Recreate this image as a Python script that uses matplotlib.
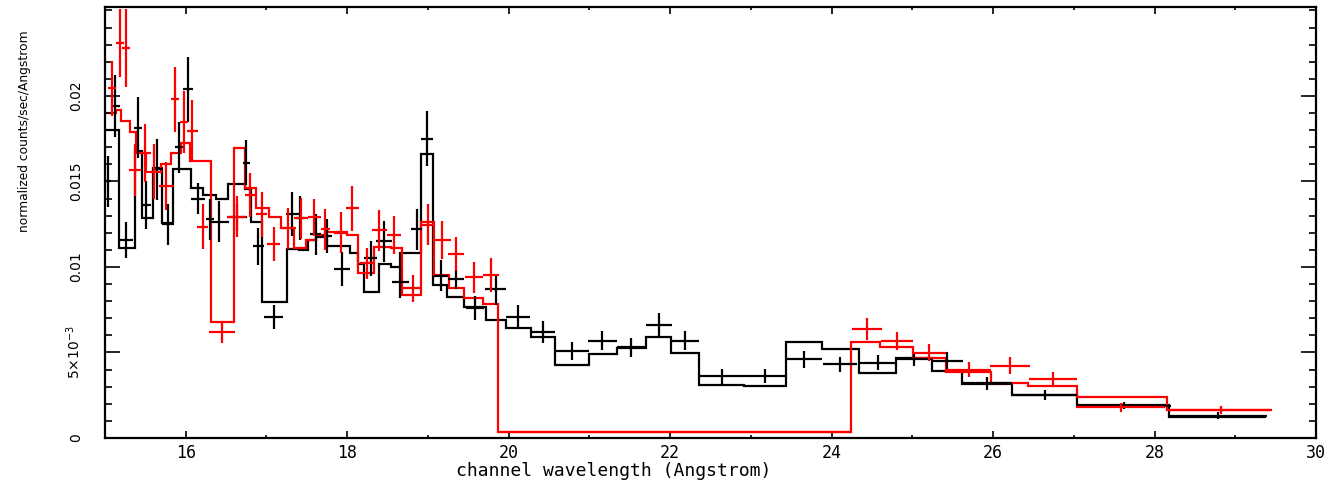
import numpy as np
import matplotlib
matplotlib.use('Agg')
import matplotlib.pyplot as plt
from matplotlib.ticker import MultipleLocator, FixedLocator

# black data (channel centre, half width, value, error)
blk_x = [15.04, 15.13, 15.26, 15.41, 15.51, 15.65, 15.78, 15.92, 16.03, 16.15,
         16.30, 16.41, 16.64, 16.75, 16.90, 17.09, 17.32, 17.42, 17.61, 17.75,
         17.94, 18.29, 18.46, 18.66, 18.86, 18.99, 19.16, 19.35, 19.58, 19.84,
         20.12, 20.42, 20.79, 21.16, 21.52, 21.86, 22.19, 22.64, 23.18, 23.66,
         24.10, 24.57, 25.02, 25.43, 25.93, 26.64, 27.62, 28.79]
blk_xe = [0.04, 0.05, 0.09, 0.05, 0.06, 0.07, 0.07, 0.05, 0.06, 0.09,
          0.05, 0.12, 0.12, 0.04, 0.07, 0.12, 0.08, 0.06, 0.07, 0.06,
          0.10, 0.08, 0.10, 0.11, 0.07, 0.07, 0.09, 0.10, 0.11, 0.13,
          0.15, 0.15, 0.21, 0.18, 0.18, 0.16, 0.17, 0.28, 0.26, 0.22,
          0.21, 0.23, 0.21, 0.20, 0.31, 0.40, 0.58, 0.60]
blk_y = [0.0150, 0.0194, 0.0116, 0.01815, 0.01363, 0.0157, 0.0125, 0.0170, 0.0204, 0.0140,
         0.0128, 0.01265, 0.0129, 0.0161, 0.0112, 0.0071, 0.0131, 0.01285, 0.0119, 0.0118,
         0.0099, 0.0105, 0.0115, 0.0091, 0.0122, 0.0175, 0.0095, 0.0093, 0.0076, 0.0087,
         0.0071, 0.0062, 0.0051, 0.0057, 0.0053, 0.0066, 0.0057, 0.0036, 0.0036, 0.0046,
         0.0043, 0.0044, 0.0046, 0.0045, 0.0032, 0.0025, 0.0019, 0.0013]
blk_ye = [0.0015, 0.0018, 0.00105, 0.0018, 0.0014, 0.0018, 0.0012, 0.0015, 0.0019, 0.0009,
          0.0012, 0.0012, 0.0008, 0.0013, 0.0011, 0.0007, 0.0013, 0.0013, 0.0012, 0.0010,
          0.0010, 0.0010, 0.0012, 0.0009, 0.0012, 0.0016, 0.0009, 0.0006, 0.0007, 0.0009,
          0.00068, 0.00067, 0.00054, 0.00058, 0.00054, 0.0007, 0.00058, 0.00044, 0.00041, 0.00049,
          0.00046, 0.00044, 0.0004, 0.0005, 0.00037, 0.0003, 0.0002, 0.0002]

# red data
red_x = [15.09, 15.19, 15.26, 15.37, 15.50, 15.61, 15.76, 15.87, 15.98, 16.08,
         16.21, 16.45, 16.63, 16.80, 16.94, 17.09, 17.27, 17.43, 17.59, 17.73,
         17.92, 18.06, 18.24, 18.40, 18.58, 18.81, 19.00, 19.18, 19.35, 19.57,
         19.78, 22.07, 24.44, 24.81, 25.21, 25.70, 26.21, 26.74, 27.58, 28.82]
red_xe = [0.05, 0.05, 0.05, 0.07, 0.07, 0.05, 0.09, 0.05, 0.05, 0.07,
          0.07, 0.16, 0.12, 0.06, 0.07, 0.08, 0.09, 0.09, 0.08, 0.06,
          0.08, 0.08, 0.08, 0.09, 0.09, 0.12, 0.08, 0.10, 0.10, 0.11,
          0.10, 2.18, 0.19, 0.20, 0.21, 0.28, 0.25, 0.30, 0.55, 0.61]
red_y = [0.02045, 0.0231, 0.0228, 0.01567, 0.01668, 0.01557, 0.01474, 0.0198, 0.01846, 0.01795,
         0.01236, 0.00618, 0.01294, 0.01421, 0.01308, 0.01135, 0.01226, 0.01285, 0.0129, 0.0122,
         0.0120, 0.01343, 0.01022, 0.01216, 0.01187, 0.00875, 0.01246, 0.01158, 0.01074, 0.0094,
         0.00953, 0.00035, 0.00636, 0.00567, 0.00499, 0.00398, 0.00423, 0.00347, 0.00179, 0.00164]
red_ye = [0.0016, 0.0020, 0.0023, 0.0015, 0.0017, 0.0016, 0.0014, 0.0019, 0.0018, 0.0018,
          0.0013, 0.0006, 0.0012, 0.0013, 0.0013, 0.0010, 0.0012, 0.0012, 0.0011, 0.0012,
          0.0012, 0.0013, 0.0009, 0.0012, 0.0011, 0.0008, 0.0012, 0.0011, 0.0010, 0.0009,
          0.0010, 0.00005, 0.00063, 0.0005, 0.0005, 0.00044, 0.00049, 0.0004, 0.00026, 0.00022]

# folded models (bin edges + values)
blk_edges = [15.0, 15.17, 15.37, 15.46, 15.59, 15.70, 15.84, 16.07, 16.21, 16.37,
             16.52, 16.74, 16.81, 16.95, 17.25, 17.40, 17.51, 17.61, 17.75, 18.04,
             18.13, 18.21, 18.40, 18.54, 18.66, 18.92, 19.06, 19.24, 19.45, 19.72,
             19.97, 20.28, 20.58, 20.99, 21.34, 21.70, 22.01, 22.36, 22.92, 23.44,
             23.88, 24.34, 24.80, 25.24, 25.62, 26.24, 27.04, 28.18, 29.38]
blk_mod = [0.0180, 0.01113, 0.01676, 0.01285, 0.01577, 0.01255, 0.01571, 0.0146, 0.01421, 0.01398,
           0.01484, 0.01454, 0.01265, 0.00794, 0.01105, 0.0110, 0.01158, 0.01177, 0.0112, 0.0108,
           0.0102, 0.00856, 0.0102, 0.0100, 0.0108, 0.0166, 0.00895, 0.00826, 0.00768, 0.0069,
           0.00641, 0.00593, 0.00427, 0.00491, 0.00524, 0.00593, 0.00495, 0.0031, 0.00304, 0.00563,
           0.00519, 0.00382, 0.00466, 0.0039, 0.00316, 0.00251, 0.00193, 0.00125]

red_edges = [15.0, 15.14, 15.20, 15.31, 15.38, 15.51, 15.69, 15.82, 15.94, 16.05,
             16.31, 16.60, 16.74, 16.87, 17.03, 17.18, 17.34, 17.49, 17.61, 17.73,
             18.00, 18.13, 18.33, 18.54, 18.68, 18.92, 19.08, 19.26, 19.45, 19.68,
             19.87, 24.24, 24.60, 25.01, 25.42, 25.97, 26.43, 27.04, 28.15, 29.45]
red_mod = [0.0190, 0.0192, 0.01856, 0.0179, 0.01665, 0.01557, 0.0160, 0.01665, 0.01723, 0.01617,
           0.0068, 0.01694, 0.0146, 0.01343, 0.01294, 0.01226, 0.01109, 0.01158, 0.01187, 0.01206,
           0.01187, 0.00963, 0.01119, 0.01109, 0.00836, 0.01265, 0.00953, 0.00875, 0.00817, 0.00784,
           0.00037, 0.00563, 0.00534, 0.00466, 0.00388, 0.00323, 0.00304, 0.00242, 0.00164]

ytick_vals = [0, 0.005, 0.01, 0.015, 0.02]
ytick_txt = ['0', r'5$\times$10$^{-3}$', '0.01', '0.015', '0.02']

fig = plt.figure(figsize=(13.37, 4.84), dpi=100)
ax = fig.add_axes([105/1337, 46/484, 1211/1337, 431/484])

ax.errorbar(blk_x, blk_y, xerr=blk_xe, yerr=blk_ye, fmt='none',
            ecolor='black', elinewidth=1.6, capsize=0)
ax.errorbar(red_x, red_y, xerr=red_xe, yerr=red_ye, fmt='none',
            ecolor='red', elinewidth=1.6, capsize=0)
ax.stairs(blk_mod, blk_edges, baseline=None, color='black', linewidth=1.6)
ax.stairs(red_mod, red_edges, baseline=None, color='red', linewidth=1.6)

ax.set_xlim(15, 30)
ax.set_ylim(0, 0.0252)
ax.xaxis.set_major_locator(MultipleLocator(2))
ax.xaxis.set_minor_locator(MultipleLocator(1))
ax.yaxis.set_major_locator(FixedLocator(ytick_vals))
ax.yaxis.set_minor_locator(MultipleLocator(0.001))
ax.set_yticklabels(ytick_txt, rotation=90, va='center', fontsize=10)
ax.set_xticks(ax.get_xticks())
ax.set_xticklabels([f'{int(t)}' for t in ax.get_xticks()], family='DejaVu Sans Mono',
                   fontsize=12)
ax.tick_params(axis='x', which='major', direction='in', length=5, width=1.2,
               top=True, pad=4)
ax.tick_params(axis='x', which='minor', direction='in', length=2.5, width=1.2, top=True)
ax.tick_params(axis='y', which='major', direction='in', length=11, width=1.2,
               right=True, pad=16)
ax.tick_params(axis='y', which='minor', direction='in', length=5, width=1.2, right=True)
ax.set_xlim(15, 30)
for s in ax.spines.values():
    s.set_linewidth(1.6)

fig.text(614/1337, 1 - 471/484, 'channel wavelength (Angstrom)', ha='center', va='center',
         fontsize=13, family='DejaVu Sans Mono')
fig.text(25/1337, 1 - 131/484, 'normalized counts/sec/Angstrom', rotation=90,
         ha='center', va='center', fontsize=8.8)

fig.savefig('out.png', dpi=100)
